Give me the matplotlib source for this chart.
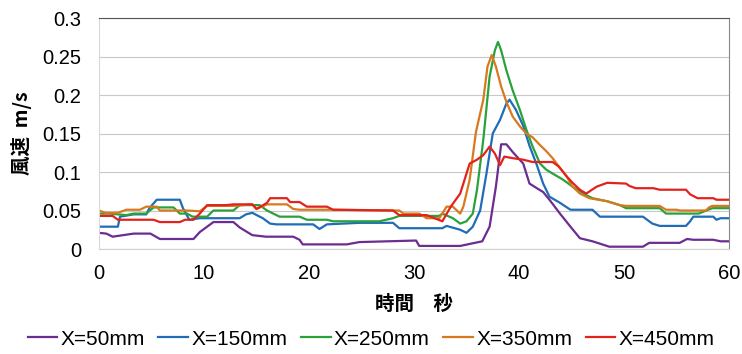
import matplotlib
matplotlib.use("Agg")
import matplotlib.pyplot as plt

# --- datos (tiempo en s, velocidad en m/s) ---
t_50 = [0, 0.7, 1.3, 3.3, 4.9, 5.8, 9.0, 9.6, 10.9, 12.8, 13.4, 14.6, 15.9, 18.5, 19.1,
        19.4, 23.6, 24.8, 30.2, 30.5, 34.4, 36.5, 37.2, 37.8, 38.3, 38.8, 39.4, 40.4, 41.0,
        41.7, 42.3, 42.9, 43.9, 44.9, 45.8, 47.0, 48.6, 51.8, 52.4, 55.3, 56.0, 56.6, 58.5,
        59.2, 60]
v_50 = [0.021, 0.020, 0.016, 0.020, 0.020, 0.013, 0.013, 0.022, 0.035, 0.035, 0.028, 0.018,
        0.016, 0.016, 0.012, 0.006, 0.006, 0.009, 0.011, 0.004, 0.004, 0.010, 0.029, 0.081,
        0.136, 0.136, 0.126, 0.111, 0.085, 0.079, 0.074, 0.064, 0.046, 0.029, 0.014, 0.010,
        0.003, 0.003, 0.008, 0.008, 0.013, 0.012, 0.012, 0.010, 0.010]

t_150 = [0, 1.8, 2.0, 3.3, 4.5, 4.8, 5.5, 7.7, 8.0, 8.6, 9.6, 13.4, 14.0, 14.6, 15.6, 16.3,
         16.9, 20.4, 21.0, 21.7, 24.8, 28.0, 28.6, 32.7, 33.1, 34.4, 35.0, 35.6, 36.3, 36.9,
         37.5, 38.2, 38.8, 39.1, 39.7, 40.4, 41.0, 41.7, 42.3, 42.9, 43.9, 44.9, 47.0, 47.7,
         51.8, 52.7, 53.4, 55.9, 56.3, 56.6, 58.5, 58.8, 59.2, 60]
v_150 = [0.029, 0.029, 0.042, 0.045, 0.045, 0.053, 0.064, 0.064, 0.053, 0.038, 0.040, 0.040,
         0.045, 0.047, 0.040, 0.033, 0.032, 0.032, 0.026, 0.032, 0.034, 0.034, 0.027, 0.027,
         0.030, 0.025, 0.021, 0.029, 0.050, 0.098, 0.150, 0.168, 0.189, 0.194, 0.181, 0.160,
         0.134, 0.109, 0.085, 0.068, 0.060, 0.051, 0.051, 0.042, 0.042, 0.033, 0.030, 0.030,
         0.036, 0.042, 0.042, 0.038, 0.040, 0.040]

t_250 = [0, 1.0, 2.6, 3.3, 4.5, 5.2, 7.1, 7.7, 8.4, 8.9, 10.3, 10.9, 12.8, 13.4, 15.3, 16.0,
         16.6, 17.2, 19.1, 19.8, 21.7, 22.3, 26.7, 28.0, 28.6, 32.4, 32.7, 33.7, 34.4, 35.0,
         35.6, 36.0, 36.6, 37.2, 37.7, 38.0, 38.3, 38.8, 39.4, 40.1, 40.7, 41.3, 42.0, 42.6,
         43.2, 44.2, 45.1, 46.1, 47.0, 48.4, 49.6, 50.2, 53.4, 54.0, 57.1, 58.4, 60]
v_250 = [0.046, 0.046, 0.044, 0.046, 0.046, 0.054, 0.054, 0.046, 0.046, 0.042, 0.042, 0.050,
         0.050, 0.057, 0.057, 0.050, 0.046, 0.042, 0.042, 0.038, 0.038, 0.036, 0.036, 0.040,
         0.043, 0.043, 0.046, 0.040, 0.033, 0.036, 0.046, 0.077, 0.142, 0.224, 0.258, 0.269,
         0.258, 0.232, 0.206, 0.180, 0.155, 0.133, 0.111, 0.103, 0.098, 0.090, 0.081, 0.072,
         0.066, 0.062, 0.057, 0.053, 0.053, 0.046, 0.046, 0.053, 0.053]

t_350 = [0, 0.6, 1.8, 2.6, 3.9, 4.5, 5.5, 5.8, 8.4, 9.6, 10.3, 12.8, 14.6, 15.0, 16.0, 17.9,
         18.5, 19.1, 22.3, 28.6, 29.0, 30.5, 31.2, 32.4, 32.7, 33.1, 33.7, 34.4, 34.7, 35.3,
         35.9, 36.6, 37.0, 37.4, 37.8, 38.3, 38.8, 39.4, 40.1, 40.7, 41.3, 42.0, 42.6, 43.2,
         43.8, 44.5, 45.1, 45.8, 46.7, 48.4, 49.6, 50.2, 53.4, 54.0, 55.0, 55.3, 57.8, 58.1,
         58.4, 60]
v_350 = [0.050, 0.047, 0.047, 0.051, 0.051, 0.055, 0.055, 0.050, 0.050, 0.049, 0.056, 0.056,
         0.058, 0.052, 0.058, 0.058, 0.052, 0.051, 0.051, 0.050, 0.046, 0.046, 0.040, 0.040,
         0.046, 0.055, 0.055, 0.046, 0.055, 0.090, 0.152, 0.194, 0.237, 0.252, 0.237, 0.211,
         0.191, 0.172, 0.159, 0.150, 0.145, 0.135, 0.127, 0.118, 0.107, 0.095, 0.081, 0.072,
         0.066, 0.062, 0.057, 0.056, 0.056, 0.051, 0.051, 0.050, 0.050, 0.054, 0.056, 0.056]

t_450 = [0, 1.3, 1.8, 5.2, 5.8, 7.7, 8.2, 9.0, 9.6, 10.3, 12.1, 12.8, 14.6, 15.0, 16.0, 16.3,
         17.9, 18.2, 19.1, 19.8, 21.7, 22.3, 28.0, 28.6, 31.2, 32.7, 33.5, 34.4, 35.0, 35.3,
         36.0, 36.6, 37.2, 37.7, 38.2, 38.6, 39.4, 40.4, 41.3, 43.2, 43.8, 44.5, 45.1, 45.8,
         46.4, 47.4, 48.4, 50.2, 50.5, 51.1, 52.8, 53.4, 55.9, 56.3, 57.0, 58.5, 58.8, 60]
v_450 = [0.043, 0.043, 0.038, 0.038, 0.035, 0.035, 0.038, 0.038, 0.046, 0.057, 0.057, 0.058,
         0.058, 0.052, 0.060, 0.066, 0.066, 0.061, 0.061, 0.055, 0.055, 0.051, 0.050, 0.044,
         0.044, 0.036, 0.055, 0.072, 0.098, 0.111, 0.116, 0.122, 0.133, 0.124, 0.109, 0.120,
         0.118, 0.116, 0.113, 0.113, 0.107, 0.095, 0.086, 0.077, 0.072, 0.081, 0.086, 0.085,
         0.082, 0.079, 0.079, 0.077, 0.077, 0.071, 0.066, 0.066, 0.064, 0.064]

etiquetas = ['X=50mm', 'X=150mm', 'X=250mm', 'X=350mm', 'X=450mm']
colores = ['#6b2d90', '#1f6db6', '#2aa23b', '#d9791e', '#e2231c']
series = [(t_50, v_50), (t_150, v_150), (t_250, v_250), (t_350, v_350), (t_450, v_450)]

FUENTE = ['Liberation Sans', 'Noto Sans CJK JP']
FUENTE_JP = ['Noto Sans CJK JP', 'Liberation Sans']

fig = plt.figure(figsize=(7.42, 3.54), dpi=100)
ax = fig.add_axes([0.1334, 0.2966, 0.8491, 0.6524])

for (t, v), lab, col in zip(series, etiquetas, colores):
    ax.plot(t, v, color=col, lw=1.6, label=lab)

ax.set_xlim(0, 60)
ax.set_ylim(0, 0.3)
ax.set_xticks(range(0, 61, 10))
ax.set_yticks([0, 0.05, 0.1, 0.15, 0.2, 0.25, 0.3])
ax.set_yticklabels(['0', '0.05', '0.1', '0.15', '0.2', '0.25', '0.3'])
ax.grid(axis='y', color='#c8c8c8', lw=0.8)
ax.set_axisbelow(True)
ax.tick_params(length=0, labelsize=14.5)
ax.tick_params(axis='x', pad=11)
ax.tick_params(axis='y', pad=13)
for lbl in ax.get_xticklabels() + ax.get_yticklabels():
    lbl.set_family(FUENTE)

ax.spines['left'].set_color('#d8d8d8')
ax.spines['bottom'].set_color('#d0d0d0')
ax.spines['top'].set_color('#555555')
ax.spines['right'].set_color('#888888')

ax.set_xlabel('時間　秒', family=FUENTE_JP, fontsize=14, fontweight='bold', va='center')
ax.xaxis.set_label_coords(0.5, -0.24)
ax.set_ylabel('風速  m/s', family=FUENTE_JP, fontsize=14, fontweight='bold', va='center')
ax.yaxis.set_label_coords(-0.123, 0.5)

fig.legend(loc='center', bbox_to_anchor=(0.5, 0.042), ncol=5, frameon=False,
           prop={'family': FUENTE, 'size': 15}, handlelength=1.43,
           handletextpad=0.15, columnspacing=0.65, borderpad=0)

plt.savefig('out.png', dpi=100)
